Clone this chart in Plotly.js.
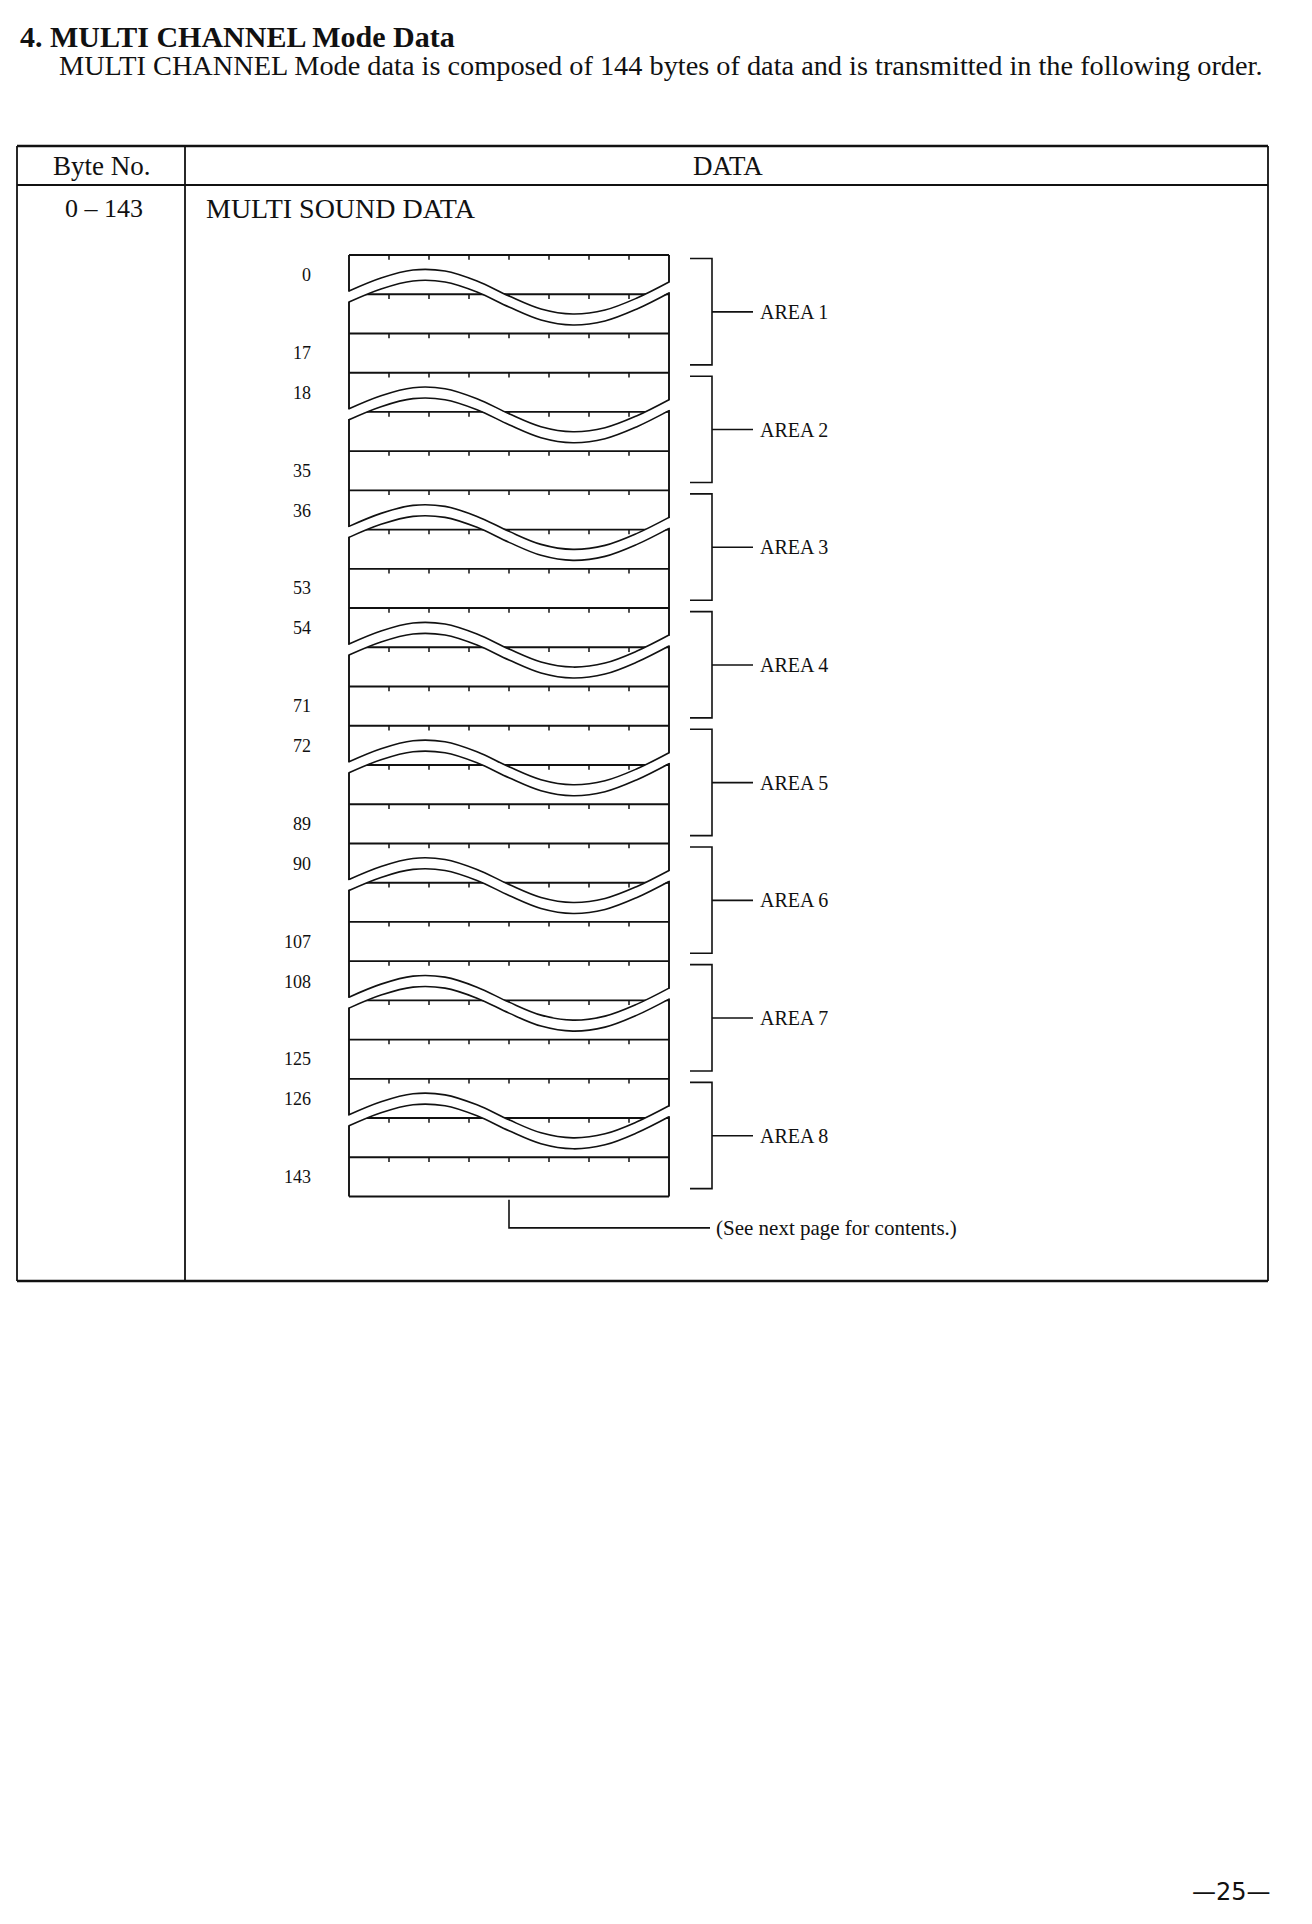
<!DOCTYPE html>
<html><head><meta charset="utf-8">
<script src="https://cdn.plot.ly/plotly-3.0.1.min.js"></script>
<style>html,body{margin:0;padding:0;background:#fff}#chart{width:1312px;height:1924px}</style>
</head><body><div id="chart"></div>
<script>
// ---------------- data ----------------
const areaNames = ['AREA 1','AREA 2','AREA 3','AREA 4','AREA 5','AREA 6','AREA 7','AREA 8'];
const areaFirstByte = [0,18,36,54,72,90,108,126];
const areaLastByte = [17,35,53,71,89,107,125,143];
const bitsPerByte = 8;
const rowsPerArea = 3;            // first byte row, break row, last byte row
const headerLabels = ['Byte No.', 'DATA'];
const byteRangeLabel = '0 – 143';
const fieldLabel = 'MULTI SOUND DATA';
const noteLabel = '(See next page for contents.)';
const titleText = '4. MULTI CHANNEL Mode Data';
const subtitleText = 'MULTI CHANNEL Mode data is composed of 144 bytes of data and is transmitted in the following order.';
const pageLabel = '—25—';
// break symbol outline: fraction of row width -> offset (rows) from area top
const breakX   = [0, 0.1, 0.2, 0.3, 0.4, 0.5, 0.6, 0.7, 0.8, 0.9, 1.0];
const breakTop = [0.918, 0.586, 0.382, 0.408, 0.663, 1.045, 1.376, 1.504, 1.402, 1.096, 0.688];

// ---------------- layout geometry (pixels of the page) ----------------
const W = 1312, H = 1924;
const G = {left: 349, colW: 40, top: 255, rowH: 39.23};
const serif = 'Liberation Serif, Times New Roman, serif';
const ink = '#111';
const breakGap = 0.28, tickLen = 0.12;
const px2x = p => (p - G.left) / G.colW;
const py2y = p => (p - G.top) / G.rowH;
const pX = p => p / W, pY = p => 1 - p / H;

const traces = [];
const nRows = areaNames.length * rowsPerArea;

// byte rows grid
const gx = [], gy = [];
for (let r = 0; r <= nRows; r++) { gx.push(0, bitsPerByte, null); gy.push(r, r, null); }
gx.push(0, 0, null, bitsPerByte, bitsPerByte, null);
gy.push(0, nRows, null, 0, nRows, null);
traces.push({x: gx, y: gy, mode: 'lines', line: {color: ink, width: 1.9}});

// bit ticks
const tx = [], ty = [];
for (let r = 0; r < nRows; r++) {
  for (let k = 1; k < bitsPerByte; k++) { tx.push(k, k, null); ty.push(r, r + tickLen, null); }
}
traces.push({x: tx, y: ty, mode: 'lines', line: {color: ink, width: 1.5}});

// break symbols
areaNames.forEach((name, a) => {
  const base = a * rowsPerArea;
  const cx = breakX.map(f => f * bitsPerByte);
  const up = breakTop.map(v => base + v);
  const lo = breakTop.map(v => base + v + breakGap);
  const mid = breakTop.map(v => base + v + breakGap / 2);
  traces.push({x: [-0.07].concat(cx, [bitsPerByte + 0.07]),
               y: [mid[0]].concat(mid, [mid[mid.length - 1]]),
               mode: 'lines', line: {color: '#fff', width: 9.5, shape: 'spline'}});
  traces.push({x: cx, y: up, mode: 'lines', line: {color: ink, width: 1.6, shape: 'spline'}});
  traces.push({x: cx, y: lo, mode: 'lines', line: {color: ink, width: 1.6, shape: 'spline'}});
});

// brackets
const bx = [], by = [];
const bL = px2x(690), bV = px2x(712), bT = px2x(753);
areaNames.forEach((name, a) => {
  const base = a * rowsPerArea;
  bx.push(bL, bV, bV, bL, null, bV, bT, null);
  by.push(base + 0.09, base + 0.09, base + 2.8, base + 2.8, null, base + 1.45, base + 1.45, null);
});
traces.push({x: bx, y: by, mode: 'lines', line: {color: ink, width: 1.6}});

// pointer to note
traces.push({x: [bitsPerByte / 2, bitsPerByte / 2, px2x(710)], y: [nRows + 0.08, nRows + 0.8, nRows + 0.8],
             mode: 'lines', line: {color: ink, width: 1.6}});

// ---------------- annotations ----------------
const ann = [];
areaNames.forEach((name, a) => {
  const base = a * rowsPerArea;
  ann.push({x: px2x(313), y: base + 0.52, text: String(areaFirstByte[a]), xanchor: 'right', yanchor: 'middle',
            showarrow: false, font: {family: serif, size: 18, color: ink}});
  ann.push({x: px2x(313), y: base + 2.5, text: String(areaLastByte[a]), xanchor: 'right', yanchor: 'middle',
            showarrow: false, font: {family: serif, size: 18, color: ink}});
  ann.push({x: px2x(758), y: base + 1.45, text: name, xanchor: 'left', yanchor: 'middle',
            showarrow: false, font: {family: serif, size: 20, color: ink}});
});
ann.push({x: px2x(714), y: nRows + 0.8, text: noteLabel, xanchor: 'left', yanchor: 'middle',
          showarrow: false, font: {family: serif, size: 21, color: ink}});
// page text (paper coordinates)
const paperAnn = (x, y, text, anchor, size, extra) => Object.assign({
  xref: 'paper', yref: 'paper', x: pX(x), y: pY(y), text: text, xanchor: anchor, yanchor: 'middle',
  showarrow: false, font: {family: serif, size: size, color: ink}}, extra || {});
ann.push(paperAnn(57, 66, subtitleText, 'left', 28.3));
ann.push(paperAnn(102, 166, headerLabels[0], 'center', 27));
ann.push(paperAnn(728, 166, headerLabels[1], 'center', 27));
ann.push(paperAnn(104, 208, byteRangeLabel, 'center', 26));
ann.push(paperAnn(204, 208, fieldLabel, 'left', 28));
ann.push(paperAnn(1231, 1892, pageLabel, 'center', 24, {font: {family: 'DejaVu Sans, sans-serif', size: 24, color: ink}}));

// table frame
const T = {l: 17, r: 1268, t: 146, h: 185, c: 185, b: 1281};
const line = (x0, y0, x1, y1, w) => ({type: 'line', xref: 'paper', yref: 'paper',
  x0: pX(x0), y0: pY(y0), x1: pX(x1), y1: pY(y1), line: {color: ink, width: w}});
const shapes = [
  line(T.l, T.t, T.r, T.t, 2.6),
  line(T.l, T.h, T.r, T.h, 2.2),
  line(T.l, T.b, T.r, T.b, 2.4),
  line(T.l, T.t, T.l, T.b, 1.8),
  line(T.r, T.t, T.r, T.b, 1.8),
  line(T.c, T.t, T.c, T.b, 1.8)
];

const layout = {
  width: W, height: H, margin: {l: 0, r: 0, t: 0, b: 0, pad: 0},
  paper_bgcolor: '#fff', plot_bgcolor: '#fff', showlegend: false, hovermode: false,
  title: {text: titleText, x: pX(20), xanchor: 'left', xref: 'paper', y: pY(36), yref: 'container', yanchor: 'middle',
          pad: {t: 0, b: 0, l: 0, r: 0}, font: {family: serif, size: 30, weight: 'bold', color: ink}},
  xaxis: {range: [px2x(0), px2x(W)], visible: false, fixedrange: true},
  yaxis: {range: [py2y(H), py2y(0)], visible: false, fixedrange: true},
  annotations: ann, shapes: shapes
};
Plotly.newPlot('chart', traces, layout, {staticPlot: true, displayModeBar: false});
</script></body></html>
